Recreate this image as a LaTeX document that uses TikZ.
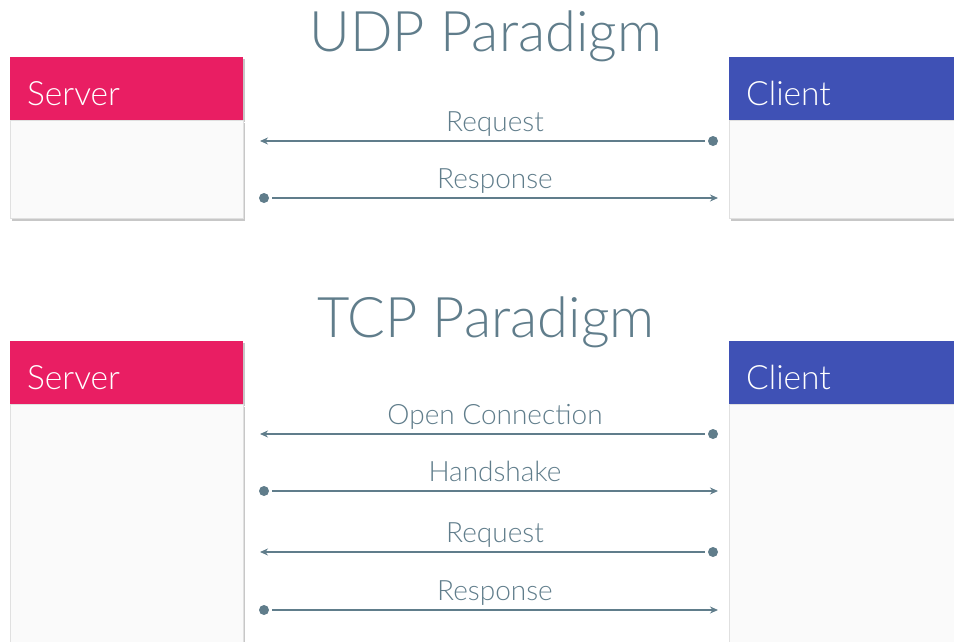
\documentclass[tikz,border=0pt]{standalone}
\usepackage{fontspec}
\setmainfont{Lato Light}
\usetikzlibrary{arrows.meta,positioning,shadows}
\definecolor{pinkhead}{HTML}{E91E63}
\definecolor{indigohead}{HTML}{3F51B5}
\definecolor{slate}{HTML}{607D8B}
\definecolor{paper}{HTML}{FAFAFA}
\tikzset{
  boxshadow/.style={drop shadow={shadow xshift=2pt, shadow yshift=-2pt, opacity=.22, fill=black}},
  head/.style={anchor=north west, minimum height=63pt, inner sep=0pt, boxshadow},
  body/.style={anchor=north west, fill=paper, draw=black!12, line width=.6pt, inner sep=0pt, boxshadow},
  boxname/.style={anchor=base west, inner sep=0pt, text=white, font=\fontsize{33.5}{33.5}\selectfont},
  title/.style={anchor=base, inner sep=0pt, text=slate, font=\fontsize{56}{56}\selectfont},
  dot/.style={circle, fill=slate, inner sep=0pt, minimum size=10pt},
  msg/.style={draw=slate, line width=1.4pt, shorten <=3pt, -{Stealth[length=8pt,width=7pt]}},
  msglabel/.style={anchor=base, yshift=10pt, inner sep=0pt, text=slate}
}
\begin{document}
\begin{tikzpicture}[x=1pt, y=-1pt, font=\fontsize{28}{28}\selectfont]
\useasboundingbox (0,0) rectangle (954,641);
\clip (0,0) rectangle (954,641);

% titles
\node[title] (udp) at (486,51) {UDP Paradigm};
\node[title] (tcp) at (486,337) {TCP Paradigm};

% server and client boxes, one pair per paradigm
\foreach \top/\h/\k in {57/98/1, 341/300/2}{
  \node[head, fill=pinkhead, minimum width=233pt] (srvhead\k) at (10,\top) {};
  \node[body, minimum width=233pt, minimum height=\h pt] (srvbody\k) at (srvhead\k.south west) {};
  \node[boxname] (srvname\k) at ([xshift=17pt,yshift=15pt]srvhead\k.south west) {Server};
  \node[head, fill=indigohead, minimum width=240pt] (clihead\k) at (729,\top) {};
  \node[body, minimum width=240pt, minimum height=\h pt] (clibody\k) at (clihead\k.south west) {};
  \node[boxname] (cliname\k) at ([xshift=17pt,yshift=15pt]clihead\k.south west) {Client};
}

% messages: dot marks the sender, arrow the receiver
\foreach \y/\xd/\xt/\txt in {141/713/260/Request, 198/264/718/Response,
    434/713/260/Open Connection, 491/264/718/Handshake,
    552/713/260/Request, 610/264/718/Response}{
  \node[dot] (dot\y) at (\xd,\y) {};
  \coordinate (tip\y) at (\xt,\y);
  \draw[msg] (dot\y) -- (tip\y);
  \node[msglabel] (lbl\y) at (495,\y) {\txt};
}
\end{tikzpicture}
\end{document}
